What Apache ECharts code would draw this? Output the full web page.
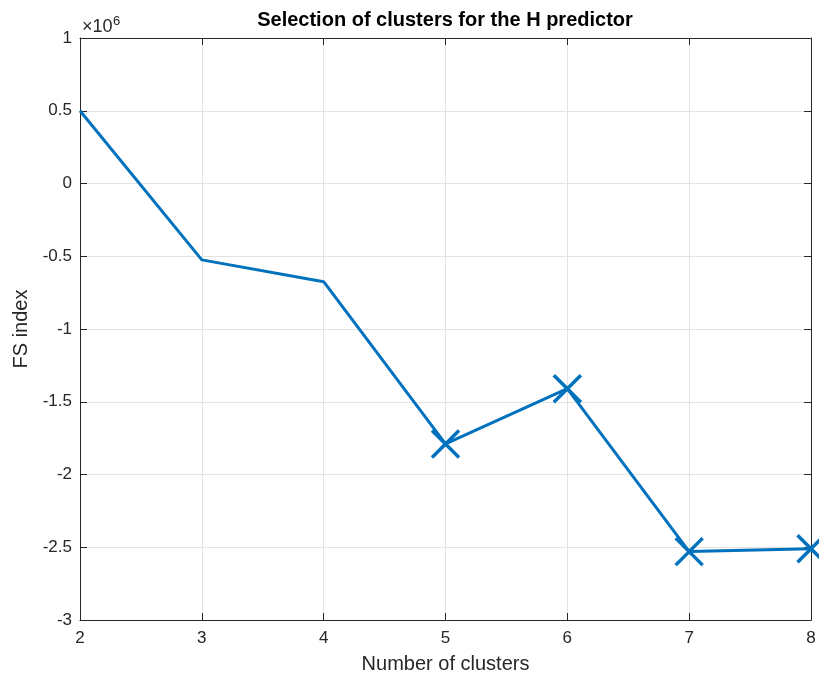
<!DOCTYPE html>
<html>
<head>
<meta charset="utf-8">
<script src="https://cdn.jsdelivr.net/npm/echarts@6/dist/echarts.min.js"></script>
<style>
  html, body { margin: 0; padding: 0; background: #fff; }
  #chart { width: 819px; height: 679px; }
</style>
</head>
<body>
<div id="chart"></div>
<script>
// number of clusters on x, FS index on y (scaled by 1e6 on the axis)
var clusters = [2, 3, 4, 5, 6, 7, 8];
var fsIndex = [500000, -525000, -675000, -1790000, -1410000, -2530000, -2510000];
// which points get an 'x' marker
var marked = [false, false, false, true, true, true, true];

var yTicks = { min: -3000000, max: 1000000, step: 500000 };
var xTicks = { min: 2, max: 8, step: 1 };

var fontFam = '"Liberation Sans", Arial, Helvetica, sans-serif';
var axisCol = '#262626';
var blue = '#0072BD';

var lineData = clusters.map(function (c, i) { return [c, fsIndex[i]]; });
var markData = clusters.map(function (c, i) { return marked[i] ? [c, fsIndex[i]] : null; })
  .filter(function (d) { return d; });

var chart = echarts.init(document.getElementById('chart'));

var tickLbl = { color: axisCol, fontSize: 17, fontFamily: fontFam };
var boxLine = { show: true, onZero: false, lineStyle: { color: axisCol, width: 1 } };
var boxTick = { show: true, inside: true, length: 7, lineStyle: { color: axisCol } };

var option = {
  backgroundColor: '#fff',
  animation: false,
  grid: { left: 80, right: 8, top: 38, bottom: 55, show: false },
  xAxis: [{
    type: 'value',
    min: xTicks.min, max: xTicks.max, interval: xTicks.step,
    name: 'Number of clusters',
    nameLocation: 'middle',
    nameGap: 34,
    nameTextStyle: { color: axisCol, fontSize: 20, fontFamily: fontFam },
    axisLine: boxLine,
    axisTick: boxTick,
    axisLabel: Object.assign({ margin: 10 }, tickLbl),
    splitLine: { show: true, lineStyle: { color: '#e3e3e3', width: 1 } }
  }, {
    type: 'value', position: 'top',
    min: xTicks.min, max: xTicks.max, interval: xTicks.step,
    axisLine: boxLine,
    axisTick: boxTick,
    axisLabel: { show: false },
    splitLine: { show: false }
  }],
  yAxis: [{
    type: 'value',
    min: yTicks.min, max: yTicks.max, interval: yTicks.step,
    name: 'FS index',
    nameLocation: 'middle',
    nameGap: 43,
    nameTextStyle: { color: axisCol, fontSize: 20, fontFamily: fontFam },
    axisLine: boxLine,
    axisTick: boxTick,
    axisLabel: Object.assign({
      margin: 8,
      formatter: function (v) { return String(v / 1000000); }
    }, tickLbl),
    splitLine: { show: true, lineStyle: { color: '#e3e3e3', width: 1 } }
  }, {
    type: 'value', position: 'right',
    min: yTicks.min, max: yTicks.max, interval: yTicks.step,
    axisLine: boxLine,
    axisTick: boxTick,
    axisLabel: { show: false },
    splitLine: { show: false }
  }],
  graphic: [{
    type: 'text',
    x: 445, y: 20,
    style: {
      text: 'Selection of clusters for the H predictor',
      fill: '#000', font: 'bold 20px ' + fontFam,
      align: 'center', verticalAlign: 'middle'
    }
  }, {
    type: 'text',
    x: 82, y: 36,
    style: {
      text: '×10',
      fill: axisCol, font: '18px ' + fontFam,
      align: 'left', verticalAlign: 'bottom'
    }
  }, {
    type: 'text',
    x: 113, y: 15,
    style: {
      text: '6',
      fill: axisCol, font: '13px ' + fontFam,
      align: 'left', verticalAlign: 'top'
    }
  }],
  series: [{
    type: 'line',
    data: lineData,
    showSymbol: false,
    symbol: 'none',
    lineStyle: { color: blue, width: 3 },
    z: 3
  }, {
    type: 'scatter',
    data: markData,
    symbol: 'path://M0 0 L10 10 M10 0 L0 10',
    symbolSize: 27,
    itemStyle: { color: 'rgba(0,0,0,0)', borderColor: blue, borderWidth: 3.5, opacity: 1 },
    z: 4
  }]
};

chart.setOption(option);
</script>
</body>
</html>
